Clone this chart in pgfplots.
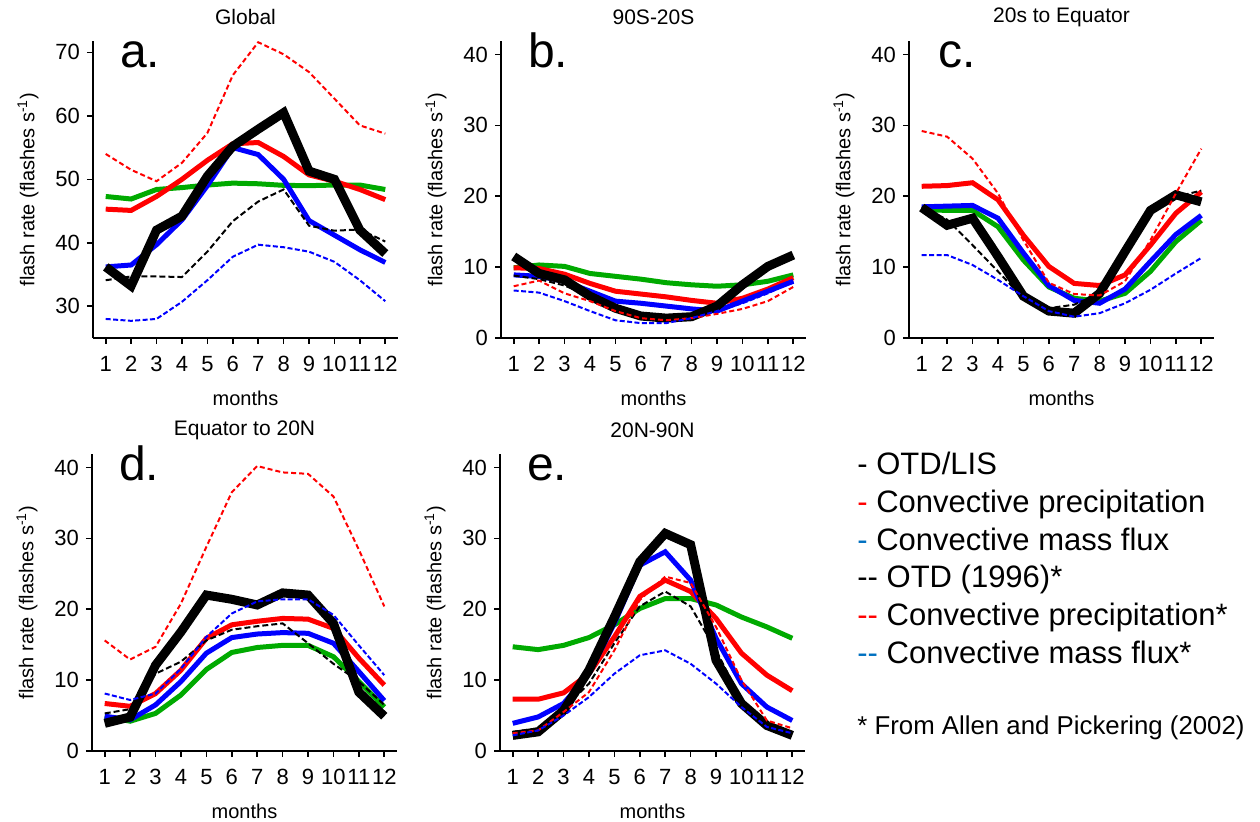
\documentclass[border=0pt]{standalone}
\usepackage{pgfplots}
\pgfplotsset{compat=1.18}
\usepackage{fontspec}
\setmainfont{Liberation Sans}
\definecolor{cgreen}{RGB}{0,170,0}
\definecolor{cred}{RGB}{255,0,0}
\definecolor{cblue}{RGB}{0,0,255}
\definecolor{lblue}{RGB}{0,112,192}
\pgfplotsset{
  panel/.style={
    scale only axis, width=152.5pt, height=148.5pt, anchor=south west,
    axis lines=left, axis line style={-, line width=1pt},
    xmin=0.5, xmax=12.5, xtick={1,...,12},
    tick align=outside, major tick length=3pt, tick style={black, line width=0.8pt},
    /pgf/number format/assume math mode=true,
    tick label style={font=\fontsize{11}{13}\selectfont},
    xticklabel style={yshift=-2.5pt},
    label style={font=\fontsize{10}{12}\selectfont},
    xlabel={months},
    ylabel={flash rate (flashes s\textsuperscript{-1})},
    xlabel style={at={(axis description cs:0.5,0)}, yshift=-30pt, anchor=center},
    ylabel style={at={(axis description cs:0,0.5)}, yshift=32.5pt, anchor=center},
    title style={at={(axis description cs:0.5,1)}, yshift=5.8pt, anchor=center, font=\fontsize{10.5}{12}\selectfont},
    clip=false,
  },
  sgreen/.style={cgreen, line width=2.5pt},
  sred/.style={cred, line width=2.5pt},
  sblue/.style={cblue, line width=2.5pt},
  sotd/.style={black, line width=4.5pt},
  dotd/.style={black, line width=1pt, dash pattern=on 3pt off 1.5pt},
  dred/.style={cred, line width=1pt, dash pattern=on 2.5pt off 1.5pt},
  dblue/.style={cblue, line width=1pt, dash pattern=on 2.5pt off 1.2pt},
}
\newcommand{\panelletter}[2][10pt]{\node[anchor=base west, xshift=#1, yshift=-13.2pt, font=\fontsize{24}{24}\selectfont] at (rel axis cs:0,1) {#2};}
\begin{document}
\begin{tikzpicture}
\path[use as bounding box] (0,0) rectangle (630pt,411pt);
% ---------------- a. Global
\begin{axis}[panel, at={(46.5pt,242pt)}, ymin=25, ymax=71.8, ytick={30,40,50,60,70}, title={Global}]
\addplot[sgreen] coordinates {(1,47.3)(2,46.9)(3,48.4)(4,48.7)(5,49.1)(6,49.4)(7,49.3)(8,49.05)(9,49.0)(10,49.1)(11,49.1)(12,48.4)};
\addplot[sred] coordinates {(1,45.3)(2,45.1)(3,47.3)(4,50.0)(5,53.0)(6,55.6)(7,55.8)(8,53.6)(9,50.7)(10,49.7)(11,48.4)(12,46.8)};
\addplot[sblue] coordinates {(1,36.2)(2,36.5)(3,39.7)(4,43.6)(5,49.0)(6,55.0)(7,53.9)(8,50.0)(9,43.5)(10,41.2)(11,38.9)(12,36.9)};
\addplot[sotd] coordinates {(1,36.2)(2,33.2)(3,42.0)(4,44.2)(5,50.5)(6,55.2)(7,57.9)(8,60.5)(9,51.3)(10,50.0)(11,42.0)(12,38.3)};
\addplot[dotd] coordinates {(1,34.1)(2,34.7)(3,34.7)(4,34.6)(5,38.6)(6,43.4)(7,46.5)(8,48.4)(9,42.7)(10,41.9)(11,42.1)(12,40.2)};
\addplot[dred] coordinates {(1,54.0)(2,51.5)(3,49.7)(4,52.6)(5,57.3)(6,66.4)(7,71.6)(8,69.7)(9,66.9)(10,62.7)(11,58.5)(12,57.2)};
\addplot[dblue] coordinates {(1,28.0)(2,27.7)(3,28.0)(4,30.7)(5,34.1)(6,37.8)(7,39.7)(8,39.3)(9,38.6)(10,37.0)(11,34.1)(12,30.8)};
\panelletter{a.}
\end{axis}
% ---------------- b. 90S-20S
\begin{axis}[panel, at={(250.5pt,242pt)}, ymin=0, ymax=41.9, ytick={0,10,20,30,40}, title={90S-20S}]
\addplot[sgreen] coordinates {(1,9.9)(2,10.3)(3,10.1)(4,9.1)(5,8.7)(6,8.3)(7,7.8)(8,7.5)(9,7.3)(10,7.5)(11,8.0)(12,8.9)};
\addplot[sred] coordinates {(1,9.9)(2,9.8)(3,9.0)(4,7.7)(5,6.6)(6,6.2)(7,5.8)(8,5.3)(9,4.9)(10,5.6)(11,6.9)(12,8.5)};
\addplot[sblue] coordinates {(1,8.9)(2,8.7)(3,8.0)(4,6.6)(5,5.2)(6,4.9)(7,4.5)(8,4.1)(9,3.8)(10,5.2)(11,6.6)(12,8.0)};
\addplot[sotd] coordinates {(1,11.5)(2,9.1)(3,8.2)(4,5.9)(5,4.2)(6,3.1)(7,2.8)(8,3.0)(9,4.5)(10,7.5)(11,10.1)(12,11.7)};
\addplot[dotd] coordinates {(1,8.8)(2,8.3)(3,7.4)(4,5.9)(5,4.2)(6,3.3)(7,2.8)(8,3.0)(9,4.2)(10,7.2)(11,9.8)(12,11.5)};
\addplot[dred] coordinates {(1,7.3)(2,8.1)(3,6.3)(4,5.2)(5,3.8)(6,2.8)(7,2.5)(8,2.8)(9,3.4)(10,4.1)(11,5.2)(12,7.2)};
\addplot[dblue] coordinates {(1,6.7)(2,6.4)(3,5.2)(4,3.8)(5,2.5)(6,2.1)(7,2.1)(8,2.8)(9,3.8)(10,4.9)(11,6.3)(12,8.0)};
\panelletter{b.}
\end{axis}
% ---------------- c. 20s to Equator
\begin{axis}[panel, at={(454.5pt,242pt)}, ymin=0, ymax=41.9, ytick={0,10,20,30,40}, title={20s to Equator}]
\addplot[sgreen] coordinates {(1,18.1)(2,18.0)(3,18.0)(4,15.7)(5,11.0)(6,7.2)(7,5.6)(8,5.2)(9,6.3)(10,9.4)(11,13.6)(12,16.6)};
\addplot[sred] coordinates {(1,21.4)(2,21.5)(3,21.9)(4,19.5)(5,14.5)(6,10.1)(7,7.7)(8,7.4)(9,8.9)(10,13.1)(11,17.6)(12,20.6)};
\addplot[sblue] coordinates {(1,18.5)(2,18.6)(3,18.7)(4,16.9)(5,12.0)(6,7.4)(7,5.3)(8,4.9)(9,6.9)(10,10.8)(11,14.6)(12,17.3)};
\addplot[sotd] coordinates {(1,18.4)(2,15.9)(3,16.9)(4,11.5)(5,5.9)(6,3.8)(7,3.5)(8,6.3)(9,12.2)(10,18.0)(11,20.2)(12,19.2)};
\addplot[dotd] coordinates {(1,18.5)(2,16.7)(3,13.1)(4,9.4)(5,5.6)(6,4.2)(7,4.7)(8,6.3)(9,11.7)(10,17.6)(11,19.9)(12,20.8)};
\addplot[dred] coordinates {(1,29.2)(2,28.4)(3,25.3)(4,20.4)(5,13.8)(6,7.8)(7,6.2)(8,6.0)(9,8.0)(10,13.8)(11,20.4)(12,26.7)};
\addplot[dblue] coordinates {(1,11.7)(2,11.7)(3,10.3)(4,8.2)(5,5.9)(6,3.8)(7,3.0)(8,3.5)(9,4.9)(10,6.8)(11,9.1)(12,11.3)};
\panelletter[11pt]{c.}
\end{axis}
% ---------------- d. Equator to 20N
\begin{axis}[panel, at={(46pt,35.5pt)}, ymin=0, ymax=41.9, ytick={0,10,20,30,40}, title={Equator to 20N}]
\addplot[sgreen] coordinates {(1,4.9)(2,4.2)(3,5.3)(4,7.9)(5,11.5)(6,13.9)(7,14.6)(8,14.9)(9,14.9)(10,13.3)(11,9.8)(12,6.2)};
\addplot[sred] coordinates {(1,6.7)(2,6.3)(3,8.1)(4,11.4)(5,15.9)(6,17.8)(7,18.3)(8,18.7)(9,18.6)(10,17.3)(11,13.1)(12,9.3)};
\addplot[sblue] coordinates {(1,4.9)(2,4.4)(3,6.5)(4,9.8)(5,13.8)(6,16.0)(7,16.5)(8,16.7)(9,16.6)(10,15.2)(11,11.2)(12,7.1)};
\addplot[sotd] coordinates {(1,3.9)(2,4.8)(3,12.1)(4,16.8)(5,22.0)(6,21.4)(7,20.6)(8,22.3)(9,22.0)(10,18.0)(11,8.3)(12,4.9)};
\addplot[dotd] coordinates {(1,5.3)(2,5.9)(3,10.9)(4,12.6)(5,15.6)(6,17.1)(7,17.6)(8,18.0)(9,15.2)(10,12.3)(11,9.8)(12,6.5)};
\addplot[dred] coordinates {(1,15.6)(2,12.9)(3,14.7)(4,20.8)(5,28.8)(6,36.5)(7,40.2)(8,39.3)(9,39.1)(10,35.9)(11,28.4)(12,20.4)};
\addplot[dblue] coordinates {(1,8.1)(2,7.2)(3,8.1)(4,11.6)(5,16.1)(6,19.4)(7,21.1)(8,21.4)(9,21.4)(10,19.2)(11,14.9)(12,10.7)};
\panelletter{d.}
\end{axis}
% ---------------- e. 20N-90N
\begin{axis}[panel, at={(250pt,35.5pt)}, ymin=0, ymax=41.9, ytick={0,10,20,30,40}, title={20N-90N}]
\addplot[sgreen] coordinates {(1,14.7)(2,14.3)(3,14.9)(4,16.0)(5,17.8)(6,20.1)(7,21.5)(8,21.5)(9,20.6)(10,18.9)(11,17.5)(12,15.9)};
\addplot[sred] coordinates {(1,7.3)(2,7.3)(3,8.2)(4,10.9)(5,16.1)(6,21.8)(7,24.1)(8,22.5)(9,18.7)(10,13.8)(11,10.7)(12,8.5)};
\addplot[sblue] coordinates {(1,3.9)(2,4.8)(3,6.7)(4,10.9)(5,18.0)(6,26.2)(7,28.1)(8,24.1)(9,15.9)(10,9.5)(11,6.2)(12,4.3)};
\addplot[sotd] coordinates {(1,2.2)(2,2.7)(3,5.7)(4,11.4)(5,18.9)(6,26.7)(7,30.7)(8,29.1)(9,12.8)(10,6.7)(11,3.6)(12,2.2)};
\addplot[dotd] coordinates {(1,2.7)(2,3.2)(3,6.0)(4,9.5)(5,15.2)(6,20.4)(7,22.5)(8,20.4)(9,14.2)(10,7.2)(11,3.6)(12,2.7)};
\addplot[dred] coordinates {(1,2.5)(2,2.9)(3,5.5)(4,8.3)(5,14.2)(6,21.3)(7,24.6)(8,23.7)(9,17.5)(10,10.0)(11,4.3)(12,3.2)};
\addplot[dblue] coordinates {(1,2.2)(2,2.9)(3,5.0)(4,7.6)(5,10.9)(6,13.5)(7,14.2)(8,12.3)(9,9.5)(10,6.2)(11,3.4)(12,2.5)};
\panelletter{e.}
\end{axis}
% ---------------- legend
\begin{scope}[every node/.style={anchor=base west, inner sep=0pt, font=\fontsize{15.5}{18}\selectfont}]
\node at (428.5pt,173.5pt) {{\color{black}-} OTD/LIS};
\node at (428.5pt,154.6pt) {{\color{cred}-} Convective precipitation};
\node at (428.5pt,135.8pt) {{\color{lblue}-} Convective mass flux};
\node at (428.5pt,117.0pt) {{\color{black}-{}-} OTD (1996)*};
\node at (428.5pt,98.2pt) {{\color{cred}-{}-} Convective precipitation*};
\node at (428.5pt,79.4pt) {{\color{lblue}-{}-} Convective mass flux*};
\node[font=\fontsize{12.9}{15}\selectfont] at (428.5pt,43.5pt) {* From Allen and Pickering (2002)};
\end{scope}
\end{tikzpicture}
\end{document}
